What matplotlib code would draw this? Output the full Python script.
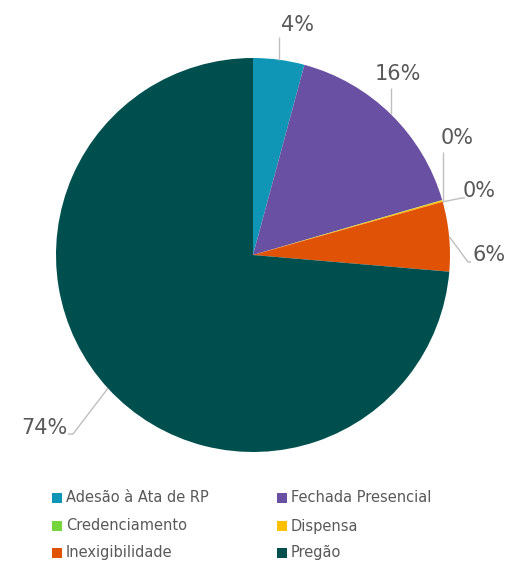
import numpy as np
import matplotlib
matplotlib.use("Agg")
import matplotlib.pyplot as plt
from matplotlib.patches import Rectangle

# share of each procurement modality (percent)
categories = ["Adesão à Ata de RP", "Fechada Presencial", "Credenciamento",
              "Dispensa", "Inexigibilidade", "Pregão"]
shares = [4.2, 16.3, 0.03, 0.12, 5.7, 73.65]
colors = ["#0f96b6", "#6a50a2", "#76d43c", "#ffc000", "#e05206", "#004f4f"]

W, H = 505, 563
TEXT = "#595959"
LINE = "#bfbfbf"

fig = plt.figure(figsize=(W / 100, H / 100), dpi=100)
ax = fig.add_axes([0, 0, 1, 1])

cx, cy, r = 253, H - 255, 197
wedges, _ = ax.pie(shares, colors=colors, startangle=90, counterclock=False,
                   radius=r, center=(cx, cy), frame=True,
                   wedgeprops=dict(linewidth=0))
ax.set_xlim(0, W)
ax.set_ylim(0, H)
ax.set_aspect("equal")
ax.axis("off")

# label placement (image coords of text centre, elbow point, line end)
label_pos = [(297, 25), (398, 74), (457, 138), (479, 191), (489, 255), (44, 428)]
elbows = [None, None, None, (462, 198), (468, 262), (73, 434)]
ends = [(None, 37), (None, 88), (None, 152), (465, 198), (471, 262), (68, 434)]

for i, w in enumerate(wedges):
    mid = np.deg2rad((w.theta1 + w.theta2) / 2)
    # both tiny slices share one anchor on the rim
    if i in (2, 3):
        mid = np.deg2rad(wedges[3].theta1)
    ax_x = cx + r * np.cos(mid)
    ax_y = cy + r * np.sin(mid)
    xs, ys = [ax_x], [ax_y]
    if elbows[i] is not None:
        xs.append(elbows[i][0])
        ys.append(H - elbows[i][1])
    ex, ey = ends[i]
    xs.append(ax_x if ex is None else ex)
    ys.append(H - ey)
    ax.plot(xs, ys, color=LINE, lw=1, solid_capstyle="butt")
    tx, ty = label_pos[i]
    ax.text(tx, H - ty, f"{round(shares[i]):d}%", ha="center", va="center",
            fontsize=15, color=TEXT)

# legend in two columns
col_x = [52, 277]
row_y = [498, 526, 553]
for i, (name, c) in enumerate(zip(categories, colors)):
    x = col_x[i % 2]
    y = row_y[i // 2]
    ax.add_patch(Rectangle((x, H - y - 5), 10, 10, facecolor=c, edgecolor="none"))
    ax.text(x + 14, H - y, name, ha="left", va="center", fontsize=10.5, color=TEXT)

fig.savefig("out.png", dpi=100)
